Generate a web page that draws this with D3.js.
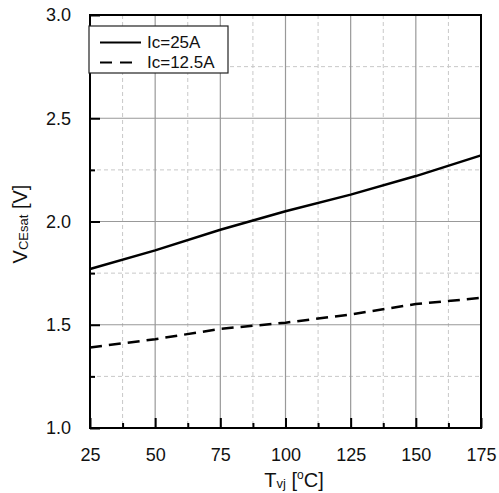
<!DOCTYPE html>
<html>
<head>
<meta charset="utf-8">
<script src="https://cdn.jsdelivr.net/npm/d3@7"></script>
<style>
  body { margin: 0; background: #fff; }
  text { font-family: Arial, "Liberation Sans", sans-serif; fill: #111; }
</style>
</head>
<body>
<script>
// chart values
var temps = [25, 50, 75, 100, 125, 150, 175];
var vce25 = [1.77, 1.86, 1.96, 2.05, 2.13, 2.22, 2.32];
var vce125 = [1.39, 1.43, 1.48, 1.51, 1.55, 1.60, 1.63];
var xTicks = [25, 50, 75, 100, 125, 150, 175];
var xMinor = [37.5, 62.5, 87.5, 112.5, 137.5, 162.5];
var yTicks = [1.0, 1.5, 2.0, 2.5, 3.0];
var yMinor = [1.25, 1.75, 2.25, 2.75];
var seriesNames = ["Ic=25A", "Ic=12.5A"];

var width = 499, height = 493;
// plot area edges (note: "top" is reserved on window, so use prefixed names)
var plotLeft = 90, plotRight = 481, plotTop = 15, plotBottom = 428;

var svg = d3.select("body").append("svg")
            .attr("width", width)
            .attr("height", height);

var xScale = d3.scaleLinear().domain([25, 175]).range([plotLeft, plotRight]);
var yScale = d3.scaleLinear().domain([1.0, 3.0]).range([plotBottom, plotTop]);

// minor grid (dashed)
svg.selectAll(".xminor").data(xMinor).enter().append("line")
   .attr("x1", function(d) { return xScale(d); })
   .attr("x2", function(d) { return xScale(d); })
   .attr("y1", plotTop).attr("y2", plotBottom)
   .attr("stroke", "#c8c8c8").attr("stroke-dasharray", "4,3");
svg.selectAll(".yminor").data(yMinor).enter().append("line")
   .attr("y1", function(d) { return yScale(d); })
   .attr("y2", function(d) { return yScale(d); })
   .attr("x1", plotLeft).attr("x2", plotRight)
   .attr("stroke", "#c8c8c8").attr("stroke-dasharray", "4,3");

// major grid
svg.selectAll(".xmajor").data(xTicks.slice(1, -1)).enter().append("line")
   .attr("x1", function(d) { return xScale(d); })
   .attr("x2", function(d) { return xScale(d); })
   .attr("y1", plotTop).attr("y2", plotBottom)
   .attr("stroke", "#999").attr("stroke-width", 1.2);
svg.selectAll(".ymajor").data(yTicks.slice(1, -1)).enter().append("line")
   .attr("y1", function(d) { return yScale(d); })
   .attr("y2", function(d) { return yScale(d); })
   .attr("x1", plotLeft).attr("x2", plotRight)
   .attr("stroke", "#999").attr("stroke-width", 1.2);

// axes with inward ticks
var xAxis = d3.axisBottom(xScale).tickValues(xTicks).tickSize(-10).tickPadding(20);
var xAxisMinor = d3.axisBottom(xScale).tickValues(xMinor).tickSize(-5).tickFormat("");
var yAxis = d3.axisLeft(yScale).tickValues(yTicks).tickSize(-10).tickPadding(19)
              .tickFormat(d3.format(".1f"));
var yAxisMinor = d3.axisLeft(yScale).tickValues(yMinor).tickSize(-5).tickFormat("");

function styleAxis(g) {
  g.select(".domain").remove();
  g.selectAll("line").attr("stroke", "#000").attr("stroke-width", 2);
  g.selectAll("text").attr("font-size", "18px").attr("fill", "#111")
   .attr("font-family", "Arial, 'Liberation Sans', sans-serif");
}

svg.append("g").attr("transform", "translate(0," + plotBottom + ")").call(xAxis).call(styleAxis);
svg.append("g").attr("transform", "translate(0," + plotBottom + ")").call(xAxisMinor).call(styleAxis);
svg.append("g").attr("transform", "translate(" + plotLeft + ",0)").call(yAxis).call(styleAxis);
svg.append("g").attr("transform", "translate(" + plotLeft + ",0)").call(yAxisMinor).call(styleAxis);

// frame
svg.append("rect")
   .attr("x", plotLeft).attr("y", plotTop)
   .attr("width", plotRight - plotLeft).attr("height", plotBottom - plotTop)
   .attr("fill", "none").attr("stroke", "#000").attr("stroke-width", 2);

// data lines
var line = d3.line()
             .x(function(d, i) { return xScale(temps[i]); })
             .y(function(d) { return yScale(d); });

svg.append("path").datum(vce25)
   .attr("d", line).attr("fill", "none")
   .attr("stroke", "#000").attr("stroke-width", 2.5);
svg.append("path").datum(vce125)
   .attr("d", line).attr("fill", "none")
   .attr("stroke", "#000").attr("stroke-width", 2.5)
   .attr("stroke-dasharray", "12,7");

// legend
svg.append("rect")
   .attr("x", 89).attr("y", 26).attr("width", 139).attr("height", 47)
   .attr("fill", "#fff").attr("stroke", "#222").attr("stroke-width", 1.2);

var legend = svg.selectAll(".legend").data(seriesNames).enter().append("g")
                .attr("transform", function(d, i) { return "translate(0," + (i * 20) + ")"; });
legend.append("line")
      .attr("x1", 100).attr("x2", function(d, i) { return i == 0 ? 141 : 134; })
      .attr("y1", 42.5).attr("y2", 42.5)
      .attr("stroke", "#000").attr("stroke-width", 2)
      .attr("stroke-dasharray", function(d, i) { return i == 0 ? null : "12,8"; });
legend.append("text")
      .attr("x", 147).attr("y", 47.5)
      .attr("font-size", "17px")
      .text(function(d) { return d; });

// axis titles
var xTitle = svg.append("text")
   .attr("x", 294).attr("y", 487)
   .attr("text-anchor", "middle")
   .attr("font-size", "20px");
xTitle.append("tspan").text("T");
xTitle.append("tspan").attr("font-size", "13px").attr("dy", 1).text("vj");
xTitle.append("tspan").attr("dy", -1).text(" [");
xTitle.append("tspan").attr("font-size", "12px").attr("dy", -8).text("o");
xTitle.append("tspan").attr("dy", 8).text("C]");

var yTitle = svg.append("text")
   .attr("transform", "translate(27,224) rotate(-90)")
   .attr("text-anchor", "middle")
   .attr("font-size", "20px");
yTitle.append("tspan").text("V");
yTitle.append("tspan").attr("font-size", "13px").attr("dy", 1).text("CEsat");
yTitle.append("tspan").attr("dy", -1).text(" [V]");
</script>
</body>
</html>
